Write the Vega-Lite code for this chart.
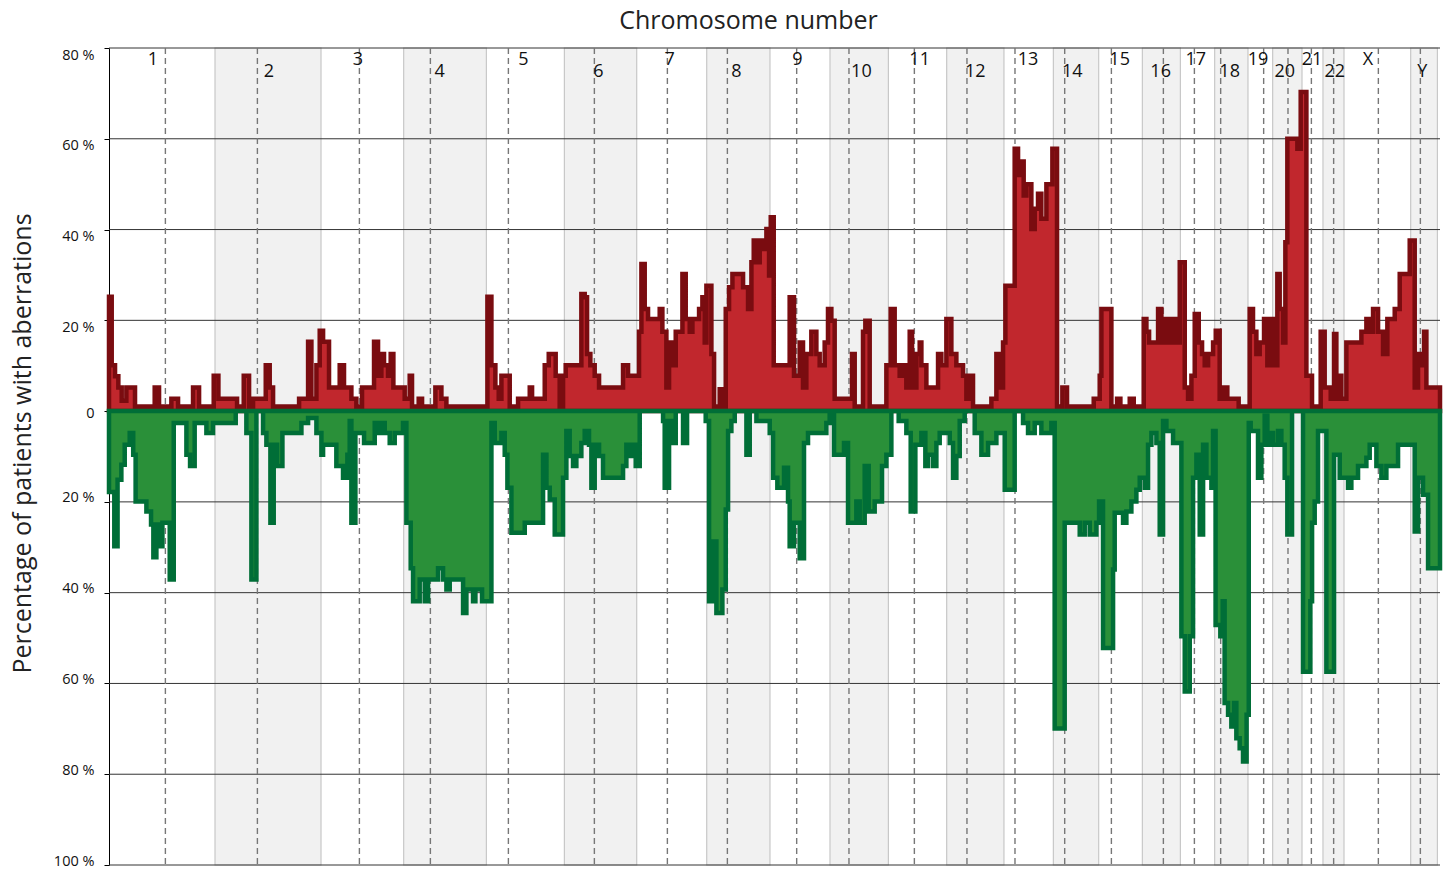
{
  "$schema": "https://vega.github.io/schema/vega-lite/v6.json",
  "width": 1331,
  "height": 817,
  "autosize": "none",
  "padding": {"left": 109, "top": 48, "right": 8, "bottom": 7},
  "background": "white",
  "config": {"view": {"stroke": null}, "font": "Open Sans"},
  "title": {"text": "Chromosome number", "fontSize": 25, "font": "Open Sans", "fontWeight": "normal", "color": "#222", "anchor": "middle", "dx": -26, "offset": 13},
  "datasets": {
    "chrom": [
      {"chrom": "1", "start": 0, "end": 246.1, "cen": 130.9, "lab": 102.1, "tier": 1, "shade": 0},
      {"chrom": "2", "start": 246.1, "end": 492.2, "cen": 344.5, "lab": 371.4, "tier": 2, "shade": 1},
      {"chrom": "3", "start": 492.2, "end": 684.1, "cen": 581.3, "lab": 578.1, "tier": 1, "shade": 0},
      {"chrom": "4", "start": 684.1, "end": 876.1, "cen": 746.1, "lab": 767.7, "tier": 2, "shade": 1},
      {"chrom": "5", "start": 876.1, "end": 1057.2, "cen": 927.2, "lab": 962.0, "tier": 1, "shade": 0},
      {"chrom": "6", "start": 1057.2, "end": 1225.1, "cen": 1126.8, "lab": 1136.1, "tier": 2, "shade": 1},
      {"chrom": "7", "start": 1225.1, "end": 1387.6, "cen": 1296.3, "lab": 1301.7, "tier": 1, "shade": 0},
      {"chrom": "8", "start": 1387.6, "end": 1534.5, "cen": 1435.6, "lab": 1456.5, "tier": 2, "shade": 1},
      {"chrom": "9", "start": 1534.5, "end": 1673.8, "cen": 1596.5, "lab": 1598.1, "tier": 1, "shade": 0},
      {"chrom": "10", "start": 1673.8, "end": 1809.4, "cen": 1717.9, "lab": 1746.7, "tier": 2, "shade": 1},
      {"chrom": "11", "start": 1809.4, "end": 1944.7, "cen": 1869.7, "lab": 1882.0, "tier": 1, "shade": 0},
      {"chrom": "12", "start": 1944.7, "end": 2077.7, "cen": 1991.8, "lab": 2011.3, "tier": 2, "shade": 1},
      {"chrom": "13", "start": 2077.7, "end": 2192.4, "cen": 2103.3, "lab": 2133.5, "tier": 1, "shade": 0},
      {"chrom": "14", "start": 2192.4, "end": 2297.6, "cen": 2218.7, "lab": 2236.5, "tier": 2, "shade": 1},
      {"chrom": "15", "start": 2297.6, "end": 2399.0, "cen": 2327.1, "lab": 2346.3, "tier": 1, "shade": 0},
      {"chrom": "16", "start": 2399.0, "end": 2487.3, "cen": 2447.8, "lab": 2441.5, "tier": 2, "shade": 1},
      {"chrom": "17", "start": 2487.3, "end": 2566.9, "cen": 2519.8, "lab": 2522.8, "tier": 1, "shade": 0},
      {"chrom": "18", "start": 2566.9, "end": 2644.2, "cen": 2580.8, "lab": 2601.7, "tier": 2, "shade": 1},
      {"chrom": "19", "start": 2644.2, "end": 2701.5, "cen": 2680.6, "lab": 2667.4, "tier": 1, "shade": 0},
      {"chrom": "20", "start": 2701.5, "end": 2769.6, "cen": 2737.1, "lab": 2729.4, "tier": 2, "shade": 1},
      {"chrom": "21", "start": 2769.6, "end": 2818.3, "cen": 2791.4, "lab": 2792.8, "tier": 1, "shade": 0},
      {"chrom": "22", "start": 2818.3, "end": 2867.1, "cen": 2843.1, "lab": 2845.5, "tier": 2, "shade": 1},
      {"chrom": "X", "start": 2867.1, "end": 3021.9, "cen": 2946.9, "lab": 2922.8, "tier": 1, "shade": 0},
      {"chrom": "Y", "start": 3021.9, "end": 3084, "cen": 3044.4, "lab": 3049.0, "tier": 2, "shade": 1}
    ],
    "grid": [{"v": -100}, {"v": -80}, {"v": -60}, {"v": -40}, {"v": -20}, {"v": 20}, {"v": 40}, {"v": 60}, {"v": 80}],
    "gain": [
      {"pos":0,"pct":25.2},{"pos":6.3,"pct":10.1},{"pos":14,"pct":7.7},{"pos":21.7,"pct":5.2},{"pos":29.5,"pct":2.3},{"pos":40.3,"pct":5.2},{"pos":60.4,"pct":1},{"pos":106.1,"pct":5.2},{"pos":116.2,"pct":1},{"pos":144.8,"pct":2.7},{"pos":160.3,"pct":1},{"pos":195.1,"pct":5.2},{"pos":209.1,"pct":1},{"pos":243.1,"pct":7.8},{"pos":254,"pct":2.7},{"pos":297.3,"pct":1},{"pos":312.8,"pct":7.8},{"pos":325.2,"pct":1},{"pos":334.4,"pct":2.7},{"pos":363.9,"pct":10.1},{"pos":373.1,"pct":5.2},{"pos":380.9,"pct":1},{"pos":441.3,"pct":2.7},{"pos":462.2,"pct":15.3},{"pos":469.9,"pct":2.7},{"pos":481.5,"pct":10.1},{"pos":489.2,"pct":17.7},{"pos":497,"pct":15.3},{"pos":510.8,"pct":5.2},{"pos":535.6,"pct":10.1},{"pos":545.6,"pct":5.2},{"pos":562.7,"pct":2.7},{"pos":574.3,"pct":1},{"pos":587.4,"pct":5.2},{"pos":615.3,"pct":15.3},{"pos":624.6,"pct":7.8},{"pos":632.3,"pct":12.6},{"pos":638.5,"pct":10.1},{"pos":647.8,"pct":7.8},{"pos":654,"pct":12.6},{"pos":660.2,"pct":5.2},{"pos":686.5,"pct":2.7},{"pos":698.1,"pct":7.8},{"pos":703.5,"pct":1},{"pos":719,"pct":2.7},{"pos":726.8,"pct":1},{"pos":757.7,"pct":5.2},{"pos":771.7,"pct":2.7},{"pos":783.3,"pct":1},{"pos":878.5,"pct":25.2},{"pos":887.8,"pct":10.1},{"pos":897,"pct":5.2},{"pos":904.8,"pct":2.7},{"pos":911,"pct":7.8},{"pos":930.3,"pct":1},{"pos":949.7,"pct":2.7},{"pos":976.8,"pct":5.2},{"pos":982.2,"pct":2.7},{"pos":1011.6,"pct":10.1},{"pos":1020.9,"pct":12.6},{"pos":1037,"pct":7.8},{"pos":1046.3,"pct":1},{"pos":1054.1,"pct":7.8},{"pos":1060.3,"pct":10.1},{"pos":1096.6,"pct":25.8},{"pos":1104.4,"pct":25.1},{"pos":1109.8,"pct":12.6},{"pos":1117.5,"pct":10.1},{"pos":1127.6,"pct":7.8},{"pos":1137.7,"pct":5.2},{"pos":1193.4,"pct":10.1},{"pos":1205,"pct":7.8},{"pos":1230.5,"pct":17.5},{"pos":1236,"pct":32.4},{"pos":1243.7,"pct":22.5},{"pos":1251.4,"pct":20.3},{"pos":1278.5,"pct":22.5},{"pos":1284.7,"pct":17.5},{"pos":1294,"pct":5.2},{"pos":1300.2,"pct":15.1},{"pos":1309.5,"pct":10.1},{"pos":1315.7,"pct":17.5},{"pos":1331.2,"pct":30.2},{"pos":1338.9,"pct":20.3},{"pos":1348.2,"pct":17.5},{"pos":1354.4,"pct":20.3},{"pos":1369.9,"pct":22.5},{"pos":1377.6,"pct":25.1},{"pos":1383,"pct":15.1},{"pos":1386.9,"pct":27.6},{"pos":1398.5,"pct":12.6},{"pos":1404.7,"pct":1},{"pos":1417.8,"pct":4.8},{"pos":1424,"pct":1},{"pos":1431.8,"pct":22.5},{"pos":1439.5,"pct":27.3},{"pos":1447.3,"pct":30.2},{"pos":1472,"pct":27.3},{"pos":1483.6,"pct":22.5},{"pos":1491.4,"pct":32.8},{"pos":1496.8,"pct":37.6},{"pos":1503,"pct":32.8},{"pos":1510.7,"pct":37.6},{"pos":1518.5,"pct":35.7},{"pos":1526.2,"pct":40.1},{"pos":1532.4,"pct":29.9},{"pos":1536.3,"pct":42.7},{"pos":1543.2,"pct":10.1},{"pos":1580.2,"pct":25.1},{"pos":1590.3,"pct":7.8},{"pos":1603.5,"pct":15.1},{"pos":1611.2,"pct":5.2},{"pos":1618.9,"pct":12.6},{"pos":1630.5,"pct":17.5},{"pos":1642.2,"pct":12.6},{"pos":1649.9,"pct":10.1},{"pos":1661.5,"pct":15.1},{"pos":1669.2,"pct":22.5},{"pos":1677,"pct":19.9},{"pos":1684.7,"pct":2.7},{"pos":1725,"pct":12.6},{"pos":1731.2,"pct":1},{"pos":1750.5,"pct":17.5},{"pos":1755.9,"pct":19.9},{"pos":1766,"pct":1},{"pos":1804.7,"pct":10.1},{"pos":1814.8,"pct":22.5},{"pos":1824,"pct":10.1},{"pos":1835.6,"pct":7.8},{"pos":1843.4,"pct":10.1},{"pos":1851.1,"pct":5.2},{"pos":1858.9,"pct":17.5},{"pos":1864.3,"pct":5.2},{"pos":1874.4,"pct":12.6},{"pos":1882.1,"pct":15.1},{"pos":1886,"pct":10.1},{"pos":1897.6,"pct":5.2},{"pos":1924.7,"pct":12.6},{"pos":1932.4,"pct":10.1},{"pos":1944,"pct":20.3},{"pos":1955.6,"pct":12.6},{"pos":1967.2,"pct":10.1},{"pos":1982.7,"pct":7.8},{"pos":1990.5,"pct":2.7},{"pos":1998.2,"pct":7.8},{"pos":2005.9,"pct":1},{"pos":2048.5,"pct":2.7},{"pos":2060.1,"pct":12.6},{"pos":2065.5,"pct":5.2},{"pos":2075.6,"pct":15.1},{"pos":2081,"pct":27.6},{"pos":2102.6,"pct":57.8},{"pos":2110.4,"pct":52},{"pos":2118.1,"pct":55},{"pos":2123.5,"pct":47.5},{"pos":2129.7,"pct":50},{"pos":2141.3,"pct":40.1},{"pos":2149.1,"pct":44.6},{"pos":2156.8,"pct":47.9},{"pos":2164.5,"pct":42.4},{"pos":2176.2,"pct":50},{"pos":2190.1,"pct":57.8},{"pos":2200.9,"pct":1},{"pos":2213.3,"pct":5.2},{"pos":2224.1,"pct":1},{"pos":2286.1,"pct":2.7},{"pos":2300,"pct":7.8},{"pos":2303.9,"pct":22.5},{"pos":2327.1,"pct":1},{"pos":2340.3,"pct":2.7},{"pos":2348,"pct":1},{"pos":2369.7,"pct":2.7},{"pos":2379,"pct":1},{"pos":2402.2,"pct":20.3},{"pos":2408.4,"pct":17.5},{"pos":2414.6,"pct":15.1},{"pos":2435.5,"pct":22.5},{"pos":2443.2,"pct":15.1},{"pos":2452.5,"pct":20.3},{"pos":2458.7,"pct":15.1},{"pos":2464.1,"pct":20.3},{"pos":2468.7,"pct":15.1},{"pos":2474.2,"pct":20.3},{"pos":2480.3,"pct":15.1},{"pos":2485.8,"pct":32.8},{"pos":2497.4,"pct":5.2},{"pos":2505.1,"pct":2.7},{"pos":2512.9,"pct":7.8},{"pos":2520.6,"pct":21.4},{"pos":2529.9,"pct":15.1},{"pos":2537.6,"pct":12.6},{"pos":2543.8,"pct":10.1},{"pos":2551.6,"pct":12.6},{"pos":2563.2,"pct":15.1},{"pos":2569.4,"pct":17.7},{"pos":2578.5,"pct":2.7},{"pos":2586.3,"pct":5.2},{"pos":2596.3,"pct":2.7},{"pos":2622.6,"pct":1},{"pos":2648.2,"pct":22.5},{"pos":2655.9,"pct":17.5},{"pos":2663.7,"pct":12.6},{"pos":2671.4,"pct":15.1},{"pos":2681.5,"pct":20.3},{"pos":2689.2,"pct":10.1},{"pos":2697,"pct":20.3},{"pos":2704.7,"pct":10.1},{"pos":2712.4,"pct":30.2},{"pos":2717.8,"pct":22.5},{"pos":2725.6,"pct":15.1},{"pos":2731,"pct":37.2},{"pos":2735.6,"pct":60},{"pos":2758.9,"pct":57.8},{"pos":2766.6,"pct":70.3},{"pos":2779.8,"pct":7.8},{"pos":2792.9,"pct":1},{"pos":2813,"pct":17.5},{"pos":2822.3,"pct":5.2},{"pos":2836.3,"pct":2.7},{"pos":2844,"pct":17},{"pos":2849.4,"pct":2.7},{"pos":2854.8,"pct":7.8},{"pos":2861,"pct":2.7},{"pos":2872.6,"pct":15.1},{"pos":2907.5,"pct":17.5},{"pos":2919.1,"pct":20.3},{"pos":2926.8,"pct":17.5},{"pos":2934.6,"pct":22.5},{"pos":2946.2,"pct":17.5},{"pos":2957.8,"pct":12.6},{"pos":2967.8,"pct":20.3},{"pos":2984.9,"pct":22.5},{"pos":2996.5,"pct":30.2},{"pos":3019.7,"pct":37.6},{"pos":3031.3,"pct":5.2},{"pos":3039,"pct":12.6},{"pos":3045.2,"pct":10.1},{"pos":3053,"pct":17.5},{"pos":3058.4,"pct":5.2},{"pos":3090,"pct":5.2}
    ],
    "loss": [
      {"pos":0,"pct":-17.8},{"pos":12.3,"pct":-29.8},{"pos":19.9,"pct":-15.1},{"pos":28.7,"pct":-11.8},{"pos":36.5,"pct":-7.4},{"pos":48.1,"pct":-4.8},{"pos":56.2,"pct":-9.6},{"pos":61.8,"pct":-19.9},{"pos":86.8,"pct":-22.1},{"pos":97.6,"pct":-25},{"pos":103,"pct":-32.2},{"pos":110,"pct":-25},{"pos":116.2,"pct":-29.8},{"pos":124,"pct":-24.6},{"pos":141,"pct":-37.1},{"pos":150.3,"pct":-2.6},{"pos":179.7,"pct":-9.6},{"pos":188.2,"pct":-12.1},{"pos":198.9,"pct":-2.6},{"pos":226.1,"pct":-4.8},{"pos":241.5,"pct":-2.6},{"pos":294.2,"pct":0},{"pos":318.9,"pct":-4.8},{"pos":330.6,"pct":-37.1},{"pos":342.2,"pct":0},{"pos":357.7,"pct":-4.8},{"pos":365.4,"pct":-7.4},{"pos":374.7,"pct":-24.6},{"pos":382.4,"pct":-7.4},{"pos":390.2,"pct":-12.1},{"pos":402.6,"pct":-4.8},{"pos":446.7,"pct":-2.6},{"pos":462.2,"pct":-1.5},{"pos":481.5,"pct":-4.8},{"pos":493.1,"pct":-9.6},{"pos":497,"pct":-7.4},{"pos":527.8,"pct":-12.1},{"pos":543.3,"pct":-14.7},{"pos":553.4,"pct":-9.6},{"pos":558.8,"pct":-2.2},{"pos":562.7,"pct":-24.6},{"pos":572,"pct":-4.8},{"pos":592.1,"pct":-7},{"pos":616.9,"pct":-2.6},{"pos":623,"pct":-4.8},{"pos":632.3,"pct":-2.6},{"pos":640.1,"pct":-4.8},{"pos":651.7,"pct":-7},{"pos":663.3,"pct":-4.8},{"pos":682.6,"pct":-2.6},{"pos":690.4,"pct":-24.6},{"pos":700.4,"pct":-34.6},{"pos":705.9,"pct":-41.9},{"pos":721.3,"pct":-37.1},{"pos":733,"pct":-41.9},{"pos":740.7,"pct":-37.1},{"pos":763.9,"pct":-34.6},{"pos":775.5,"pct":-37.1},{"pos":783.3,"pct":-39.3},{"pos":791,"pct":-37.1},{"pos":822,"pct":-44.5},{"pos":829.7,"pct":-39.3},{"pos":845.2,"pct":-41.9},{"pos":850.6,"pct":-39.3},{"pos":866.1,"pct":-41.9},{"pos":887.8,"pct":-2.6},{"pos":895.5,"pct":-7},{"pos":911,"pct":-4.8},{"pos":918.7,"pct":-9.6},{"pos":924.9,"pct":-16.9},{"pos":934.2,"pct":-26.8},{"pos":965.2,"pct":-24.6},{"pos":1007.7,"pct":-9.6},{"pos":1015.5,"pct":-16.9},{"pos":1023.2,"pct":-19.5},{"pos":1034.8,"pct":-27.2},{"pos":1054.1,"pct":-14.7},{"pos":1061.8,"pct":-4.4},{"pos":1069.5,"pct":-9.9},{"pos":1077.3,"pct":-12.1},{"pos":1085,"pct":-9.9},{"pos":1096.6,"pct":-7},{"pos":1104.4,"pct":-4.4},{"pos":1114.4,"pct":-7.4},{"pos":1119.9,"pct":-16.9},{"pos":1127.6,"pct":-7.4},{"pos":1137.7,"pct":-9.9},{"pos":1146.9,"pct":-14.7},{"pos":1193.4,"pct":-12.1},{"pos":1201.1,"pct":-7.4},{"pos":1208.9,"pct":-9.9},{"pos":1216.6,"pct":-7.4},{"pos":1222.8,"pct":-12.1},{"pos":1232.1,"pct":0},{"pos":1286.3,"pct":-2.2},{"pos":1290.1,"pct":-16.9},{"pos":1300.2,"pct":-2.2},{"pos":1307.9,"pct":-7},{"pos":1315.7,"pct":0},{"pos":1332.7,"pct":-7},{"pos":1342,"pct":0},{"pos":1385.3,"pct":-2.2},{"pos":1393.1,"pct":-41.9},{"pos":1402.4,"pct":-28.7},{"pos":1410.1,"pct":-44.5},{"pos":1424,"pct":-39.3},{"pos":1431.8,"pct":-21.7},{"pos":1437.2,"pct":-4.4},{"pos":1444.9,"pct":-2.2},{"pos":1452.7,"pct":0},{"pos":1479.8,"pct":-9.6},{"pos":1487.5,"pct":0},{"pos":1503,"pct":-2.2},{"pos":1533.9,"pct":-4.8},{"pos":1541.7,"pct":-14.7},{"pos":1551.6,"pct":-16.9},{"pos":1567.1,"pct":-12.5},{"pos":1576.4,"pct":-19.9},{"pos":1580.2,"pct":-29.8},{"pos":1590.3,"pct":-24.6},{"pos":1603.5,"pct":-32.4},{"pos":1613.5,"pct":-7},{"pos":1622.8,"pct":-4.8},{"pos":1665.4,"pct":-2.6},{"pos":1673.1,"pct":0},{"pos":1683.2,"pct":-9.6},{"pos":1706.4,"pct":-7},{"pos":1715.7,"pct":-24.6},{"pos":1735,"pct":-19.9},{"pos":1742.8,"pct":-24.6},{"pos":1754.4,"pct":-12.1},{"pos":1763.7,"pct":-22.1},{"pos":1777.6,"pct":-19.9},{"pos":1794.6,"pct":-12.1},{"pos":1804.7,"pct":-9.6},{"pos":1816.3,"pct":0},{"pos":1833.3,"pct":-2.2},{"pos":1851.1,"pct":-4.8},{"pos":1861.2,"pct":-22.1},{"pos":1872,"pct":-7.4},{"pos":1886,"pct":-4.8},{"pos":1895.2,"pct":-12.1},{"pos":1901.4,"pct":-9.6},{"pos":1913.1,"pct":-12.1},{"pos":1920.8,"pct":-7},{"pos":1928.5,"pct":-4.8},{"pos":1951.8,"pct":-7},{"pos":1959.5,"pct":-14.7},{"pos":1967.2,"pct":-9.9},{"pos":1975,"pct":-2.2},{"pos":1986.6,"pct":0},{"pos":2009.8,"pct":-4.8},{"pos":2025.3,"pct":-9.6},{"pos":2040.8,"pct":-7},{"pos":2060.1,"pct":-4.8},{"pos":2079.5,"pct":-17.3},{"pos":2102.6,"pct":0},{"pos":2122,"pct":-2.6},{"pos":2133.6,"pct":-4.8},{"pos":2149.1,"pct":-2.6},{"pos":2164.5,"pct":-4.8},{"pos":2187.8,"pct":-2.6},{"pos":2195.5,"pct":-69.9},{"pos":2218.7,"pct":-24.6},{"pos":2253.6,"pct":-27.2},{"pos":2265.2,"pct":-24.6},{"pos":2276.8,"pct":-27.2},{"pos":2292.3,"pct":-24.6},{"pos":2298.5,"pct":-19.9},{"pos":2307.7,"pct":-52.2},{"pos":2331,"pct":-34.9},{"pos":2334.8,"pct":-22.4},{"pos":2354.2,"pct":-24.6},{"pos":2361.9,"pct":-22.1},{"pos":2373.5,"pct":-19.9},{"pos":2385.1,"pct":-17.3},{"pos":2392.9,"pct":-14.7},{"pos":2404.5,"pct":-16.9},{"pos":2412.2,"pct":-7.4},{"pos":2420,"pct":-4.8},{"pos":2431.6,"pct":-7},{"pos":2439.3,"pct":-27.2},{"pos":2447.1,"pct":-2.2},{"pos":2454.8,"pct":-4.4},{"pos":2470.3,"pct":-7},{"pos":2489.6,"pct":-49.6},{"pos":2497.4,"pct":-61.8},{"pos":2509,"pct":-49.6},{"pos":2516.7,"pct":-14.7},{"pos":2524.5,"pct":-9.6},{"pos":2532.2,"pct":-27.2},{"pos":2540,"pct":-7.4},{"pos":2547.7,"pct":-14.7},{"pos":2559.3,"pct":-16.9},{"pos":2563.2,"pct":-4.4},{"pos":2569,"pct":-47.1},{"pos":2580,"pct":-49.6},{"pos":2585.5,"pct":-41.9},{"pos":2590,"pct":-64.3},{"pos":2598,"pct":-66.9},{"pos":2605.6,"pct":-69.5},{"pos":2611.8,"pct":-64.3},{"pos":2617.2,"pct":-72.1},{"pos":2624.9,"pct":-74.3},{"pos":2632.7,"pct":-77.2},{"pos":2641,"pct":-66.9},{"pos":2646,"pct":-2.6},{"pos":2650.5,"pct":-4.4},{"pos":2667.5,"pct":-14.7},{"pos":2675.3,"pct":-7.4},{"pos":2683,"pct":-1},{"pos":2689.2,"pct":-7.4},{"pos":2694.6,"pct":-4.8},{"pos":2702.4,"pct":-7.4},{"pos":2714,"pct":-4.4},{"pos":2721.7,"pct":-7.4},{"pos":2729.4,"pct":-14.7},{"pos":2735.6,"pct":-27.2},{"pos":2746.5,"pct":0},{"pos":2772,"pct":-57.4},{"pos":2789,"pct":-41.9},{"pos":2793,"pct":-24.6},{"pos":2799.1,"pct":-19.9},{"pos":2806.8,"pct":-4.4},{"pos":2826.2,"pct":-57.4},{"pos":2844,"pct":-9.6},{"pos":2857.2,"pct":-14.7},{"pos":2876.5,"pct":-16.9},{"pos":2884.2,"pct":-14.7},{"pos":2899.7,"pct":-12.1},{"pos":2919.1,"pct":-10.3},{"pos":2926.8,"pct":-7.4},{"pos":2942.3,"pct":-12.1},{"pos":2953.9,"pct":-14.7},{"pos":2965.5,"pct":-12.1},{"pos":2992.6,"pct":-7.4},{"pos":3031.3,"pct":-26.5},{"pos":3039,"pct":-14.7},{"pos":3050.6,"pct":-18.4},{"pos":3062.3,"pct":-34.6},{"pos":3090,"pct":-34.6}
    ]
  },
  "layer": [
    {
      "data": {"name": "chrom"},
      "transform": [{"filter": "datum.shade == 1"}],
      "mark": {"type": "rect", "fill": "#f1f1f1", "stroke": "#c8c8c8", "strokeWidth": 1.2},
      "encoding": {
        "x": {"field": "start", "type": "quantitative", "scale": {"domain": [0, 3090], "nice": false, "zero": false}, "axis": null},
        "x2": {"field": "end"}
      }
    },
    {
      "data": {"name": "grid"},
      "mark": {"type": "rule", "color": "#333", "strokeWidth": 1},
      "encoding": {
        "y": {
          "field": "v", "type": "quantitative",
          "scale": {"domain": [-100, 80], "nice": false},
          "axis": {
            "title": "Percentage of patients with aberrations",
            "values": [-100, -80, -60, -40, -20, 0, 20, 40, 60, 80],
            "labelExpr": "datum.value == 0 ? '0' : abs(datum.value) + ' %'",
            "grid": false,
            "domainColor": "#000",
            "domainWidth": 1,
            "tickColor": "#000",
            "tickSize": 5,
            "labelPadding": 10,
            "labelFontSize": 14.5,
            "labelFont": "Open Sans",
            "labelColor": "#111",
            "labelBaseline": "middle",
            "labelOffset": {"condition": [{"test": "datum.value > 0", "value": 7}, {"test": "datum.value < 0", "value": -4}], "value": 2},
            "titleFont": "Open Sans",
            "titleFontSize": 25,
            "titleFontWeight": "normal",
            "titleColor": "#222",
            "titleX": -87,
            "titleY": 395,
            "titleBaseline": "middle",
            "titleAlign": "center",
            "titleAngle": -90
          }
        }
      }
    },
    {
      "data": {"name": "chrom"},
      "mark": {"type": "rule", "color": "#777", "strokeWidth": 1.4, "strokeDash": [6, 4]},
      "encoding": {
        "x": {"field": "cen", "type": "quantitative", "scale": {"domain": [0, 3090], "nice": false, "zero": false}, "axis": null}
      }
    },
    {
      "data": {"name": "gain"},
      "mark": {"type": "area", "interpolate": "step-after", "fill": "#c1272d", "stroke": "#7a0c10", "strokeWidth": 4.5, "strokeJoin": "miter"},
      "encoding": {
        "x": {"field": "pos", "type": "quantitative", "scale": {"domain": [0, 3090], "nice": false, "zero": false}, "axis": null},
        "y": {"field": "pct", "type": "quantitative", "scale": {"domain": [-100, 80], "nice": false}}
      }
    },
    {
      "data": {"name": "loss"},
      "mark": {"type": "area", "interpolate": "step-after", "fill": "#2a9039", "stroke": "#006e37", "strokeWidth": 4.5, "strokeJoin": "miter"},
      "encoding": {
        "x": {"field": "pos", "type": "quantitative", "scale": {"domain": [0, 3090], "nice": false, "zero": false}, "axis": null},
        "y": {"field": "pct", "type": "quantitative", "scale": {"domain": [-100, 80], "nice": false}}
      }
    },
    {
      "data": {"name": "chrom"},
      "transform": [{"filter": "datum.tier == 1"}],
      "mark": {"type": "text", "fontSize": 18, "font": "Open Sans", "color": "#111", "align": "center", "baseline": "middle"},
      "encoding": {
        "x": {"field": "lab", "type": "quantitative", "scale": {"domain": [0, 3090], "nice": false, "zero": false}, "axis": null},
        "y": {"datum": 77.3, "type": "quantitative", "scale": {"domain": [-100, 80], "nice": false}},
        "text": {"field": "chrom"}
      }
    },
    {
      "data": {"name": "chrom"},
      "transform": [{"filter": "datum.tier == 2"}],
      "mark": {"type": "text", "fontSize": 18, "font": "Open Sans", "color": "#111", "align": "center", "baseline": "middle"},
      "encoding": {
        "x": {"field": "lab", "type": "quantitative", "scale": {"domain": [0, 3090], "nice": false, "zero": false}, "axis": null},
        "y": {"datum": 74.7, "type": "quantitative", "scale": {"domain": [-100, 80], "nice": false}},
        "text": {"field": "chrom"}
      }
    }
  ]
}
